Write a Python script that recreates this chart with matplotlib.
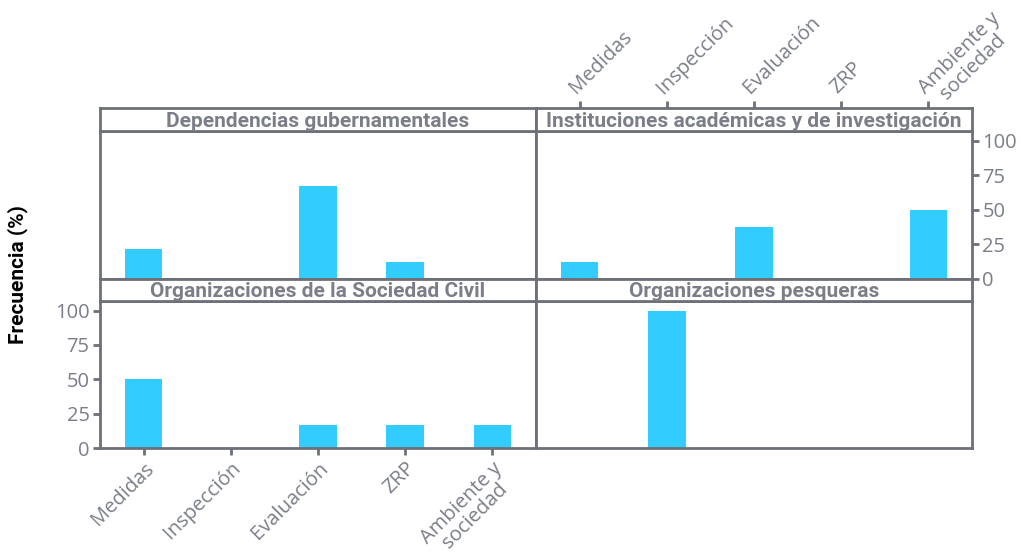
import matplotlib
matplotlib.use("Agg")
import matplotlib.pyplot as plt
import numpy as np

categorias = ["Medidas", "Inspección", "Evaluación", "ZRP", "Ambiente y\nsociedad"]
gubernamentales = [22, 0, 67, 12, 0]
academicas = [12.5, 0, 37.5, 0, 50]
sociedad_civil = [50, 0, 16.7, 16.7, 16.7]
pesqueras = [0, 100, 0, 0, 0]
yticks = [0, 25, 50, 75, 100]

paneles = [
    ("Dependencias gubernamentales", gubernamentales),
    ("Instituciones académicas y de investigación", academicas),
    ("Organizaciones de la Sociedad Civil", sociedad_civil),
    ("Organizaciones pesqueras", pesqueras),
]

BAR = "#33ccff"
FRAME = "#6e7079"
TEXT = "#7b7e88"
plt.rcParams["font.family"] = ["Open Sans", "DejaVu Sans"]

W, H = 1028, 554
fig = plt.figure(figsize=(W / 100, H / 100), dpi=100)

def fr(x0, y0, x1, y1):
    # pixel box -> figure fraction
    return [x0 / W, (H - y1) / H, (x1 - x0) / W, (y1 - y0) / H]

cols = [(100, 536), (536, 972)]
rows = [((108, 131), (131, 279)), ((279, 301), (301, 448))]
x = np.arange(1, len(categorias) + 1)
TICKS = dict(colors=FRAME, labelcolor=TEXT, labelsize=14.5, length=5, width=2, pad=2.5)

def etiquetas(labels):
    for lb in labels:
        lb.set_linespacing(0.92)
        lb.set_multialignment("center")

for i, (titulo, valores) in enumerate(paneles):
    r, c = divmod(i, 2)
    (s0, s1), (p0, p1) = rows[r]
    x0, x1 = cols[c]

    ax = fig.add_axes(fr(x0, p0, x1, p1))
    ax.bar(x, valores, width=0.43, color=BAR, zorder=2)
    ax.set_xlim(0.5, 5.5)
    ax.set_ylim(0, 107)
    ax.set_xticks(x)
    ax.set_yticks(yticks)
    ax.tick_params(**TICKS)
    ax.tick_params(bottom=False, labelbottom=False, left=False, labelleft=False)
    for sp in ax.spines.values():
        sp.set_color(FRAME)
        sp.set_linewidth(2)
    if i == 2:
        ax.tick_params(bottom=True, labelbottom=True, left=True, labelleft=True)
        etiquetas(ax.set_xticklabels(categorias, rotation=45, ha="right",
                                     rotation_mode="anchor"))
    if i == 1:
        ax.yaxis.tick_right()
        ax.tick_params(right=True, labelright=True)

    sx = fig.add_axes(fr(x0, s0, x1, s1))
    sx.set_xlim(0.5, 5.5)
    sx.set_ylim(0, 1)
    sx.set_yticks([])
    sx.set_xticks([])
    for sp in sx.spines.values():
        sp.set_color(FRAME)
        sp.set_linewidth(2)
    sx.text(0.5, 0.42, titulo, transform=sx.transAxes, ha="center", va="center",
            fontsize=15, fontweight="bold", color=TEXT, family=["Roboto", "DejaVu Sans"])
    if i == 1:
        sx.set_xticks(x)
        sx.xaxis.tick_top()
        labels = sx.set_xticklabels(categorias, rotation=45, ha="left", rotation_mode="anchor")
        etiquetas(labels)
        labels[-1].set_va("center")
        sx.tick_params(**TICKS)

fig.text(18 / W, 1 - 275 / H, "Frecuencia (%)", rotation=90, ha="center", va="center",
         fontsize=15, fontweight="bold", color="black", family=["Roboto", "DejaVu Sans"])

fig.savefig("out.png", dpi=100)
